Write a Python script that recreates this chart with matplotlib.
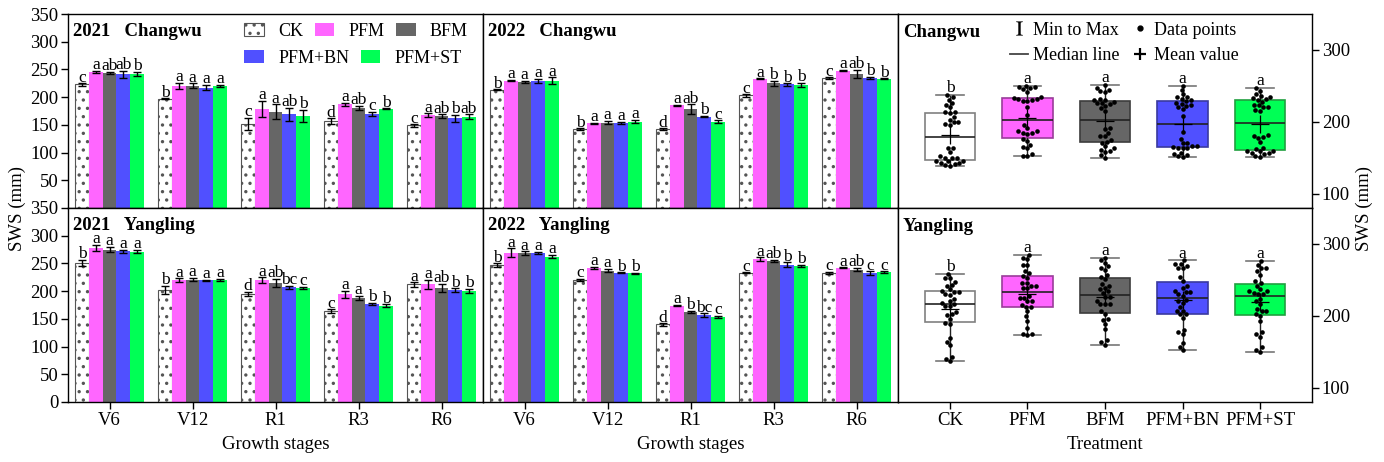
import numpy as np
import pandas as pd
import matplotlib
matplotlib.use('Agg')
import matplotlib.pyplot as plt
from matplotlib.patches import Patch
from matplotlib.lines import Line2D
import seaborn as sns

plt.rcParams['font.family'] = ['Liberation Serif', 'DejaVu Serif']
plt.rcParams['mathtext.fontset'] = 'stix'
plt.rcParams['hatch.linewidth'] = 1.2
plt.rcParams['axes.linewidth'] = 1.0

stages = ['V6', 'V12', 'R1', 'R3', 'R6']
treatments = ['CK', 'PFM', 'BFM', 'PFM+BN', 'PFM+ST']

# bar data: one row per treatment, one column per growth stage
cw21_mean = [[223, 197, 152, 157, 149], [245, 220, 179, 187, 168], [244, 221, 174, 180, 166],
             [241, 217, 169, 170, 162], [242, 220, 166, 179, 165]]
cw21_err = [[2, 1, 11, 5, 2], [2, 6, 14, 3, 3], [2, 4, 13, 4, 3], [7, 5, 12, 4, 6], [4, 2, 11, 1, 4]]
cw21_lab = [['c', 'b', 'c', 'd', 'c'], ['a', 'a', 'a', 'a', 'a'], ['ab', 'a', 'a', 'ab', 'ab'],
            ['ab', 'a', 'ab', 'c', 'b'], ['b', 'a', 'b', 'b', 'ab']]

yl21_mean = [[251, 202, 195, 164, 212], [278, 220, 220, 194, 212], [275, 221, 215, 188, 206],
             [272, 220, 207, 177, 202], [271, 220, 206, 174, 200]]
yl21_err = [[5, 7, 4, 3, 4], [5, 3, 5, 7, 8], [5, 3, 7, 4, 7], [3, 1, 3, 2, 3], [3, 2, 2, 2, 4]]
yl21_lab = [['b', 'b', 'd', 'c', 'a'], ['a', 'a', 'a', 'a', 'a'], ['a', 'a', 'ab', 'a', 'ab'],
            ['a', 'a', 'bc', 'b', 'b'], ['a', 'a', 'c', 'b', 'b']]

cw22_mean = [[213, 142, 142, 203, 234], [230, 153, 185, 233, 248], [228, 154, 178, 225, 242],
             [229, 154, 165, 223, 235], [230, 156, 156, 222, 233]]
cw22_err = [[1, 2, 2, 2, 2], [1, 1, 1, 1, 1], [2, 3, 9, 4, 7], [4, 2, 1, 2, 2], [6, 3, 2, 4, 1]]
cw22_lab = [['b', 'b', 'd', 'c', 'c'], ['a', 'a', 'a', 'a', 'a'], ['a', 'a', 'ab', 'b', 'ab'],
            ['a', 'a', 'b', 'b', 'b'], ['a', 'a', 'c', 'b', 'b']]

yl22_mean = [[247, 220, 140, 233, 233], [269, 242, 174, 258, 242], [269, 237, 163, 254, 239],
             [269, 233, 157, 248, 233], [262, 232, 153, 245, 234]]
yl22_err = [[3, 2, 2, 1, 2], [8, 2, 1, 3, 1], [3, 3, 2, 2, 3], [2, 1, 3, 4, 3], [3, 1, 2, 2, 2]]
yl22_lab = [['b', 'c', 'd', 'c', 'c'], ['a', 'a', 'a', 'a', 'a'], ['a', 'a', 'b', 'ab', 'ab'],
            ['a', 'b', 'bc', 'b', 'c'], ['a', 'b', 'c', 'b', 'c']]

# individual data points (2 years x 5 stages x 3 replicates) per treatment
cw_pts = [
    [220, 223, 226, 195, 197, 199, 141, 150, 164, 149, 158, 164, 146, 149, 152,
     212, 213, 214, 139, 142, 145, 140, 142, 145, 200, 203, 206, 231, 234, 237],
    [242, 245, 248, 210, 221, 229, 165, 176, 196, 183, 187, 191, 163, 168, 173,
     229, 230, 232, 152, 153, 155, 184, 185, 187, 232, 233, 234, 247, 248, 250],
    [241, 244, 247, 215, 222, 226, 160, 172, 190, 175, 180, 185, 161, 166, 171,
     225, 228, 231, 150, 154, 158, 163, 180, 191, 219, 226, 230, 232, 243, 251],
    [229, 244, 250, 208, 218, 225, 155, 166, 186, 164, 170, 176, 152, 163, 171,
     222, 230, 235, 151, 154, 157, 164, 165, 166, 220, 223, 226, 232, 235, 238],
    [236, 243, 247, 217, 220, 223, 155, 162, 181, 178, 179, 180, 159, 164, 172,
     220, 231, 239, 151, 157, 160, 153, 156, 159, 215, 223, 228, 232, 233, 234],
]
yl_pts = [
    [243, 252, 258, 190, 203, 213, 188, 196, 201, 159, 164, 169, 205, 213, 218,
     242, 247, 252, 216, 220, 224, 137, 140, 143, 231, 233, 235, 229, 233, 237],
    [270, 279, 285, 215, 220, 225, 212, 221, 227, 183, 193, 206, 199, 212, 225,
     256, 270, 281, 238, 242, 246, 173, 174, 175, 253, 259, 262, 239, 242, 245],
    [267, 277, 281, 216, 221, 226, 203, 216, 226, 181, 188, 195, 194, 207, 217,
     264, 269, 274, 232, 237, 242, 160, 163, 166, 251, 254, 257, 234, 239, 244],
    [267, 272, 277, 218, 220, 222, 202, 207, 212, 174, 177, 180, 197, 202, 207,
     266, 269, 272, 231, 233, 235, 152, 157, 162, 241, 249, 254, 228, 233, 238],
    [266, 271, 276, 216, 220, 224, 203, 206, 209, 171, 174, 177, 193, 200, 207,
     257, 262, 267, 230, 232, 234, 150, 153, 156, 242, 245, 248, 231, 234, 237],
]
cw_box_lab = ['b', 'a', 'a', 'a', 'a']
yl_box_lab = ['b', 'a', 'a', 'a', 'a']

colors = ['white', '#ff66ff', '#666666', '#5050ff', '#00ff55']
box_edges = ['#808080', '#9a3c9a', '#3c3c3c', '#3a3aa0', '#20a040']

W, H = 1384, 462
fig = plt.figure(figsize=(13.84, 4.62), dpi=100)


def add_ax(x0, y0, x1, y1):
    return fig.add_axes([x0 / W, 1 - y1 / H, (x1 - x0) / W, (y1 - y0) / H])


def bar_panel(ax, means, errs, labs, title):
    x = np.arange(len(stages))
    w = 0.165
    for i, t in enumerate(treatments):
        pos = x + (i - 2) * w
        if i == 0:
            ax.bar(pos, means[i], w, color='white', edgecolor='#555555', lw=0.8, hatch='..', zorder=2)
        else:
            ax.bar(pos, means[i], w, color=colors[i], lw=0, zorder=2)
        ax.errorbar(pos, means[i], yerr=errs[i], fmt='none', ecolor='black', elinewidth=1,
                    capsize=3, capthick=1, zorder=3)
        for p, m, e, l in zip(pos, means[i], errs[i], labs[i]):
            ax.text(p, m + e + 3, l, ha='center', va='baseline', fontsize=12.5)
    ax.set_xlim(-0.5, 4.5)
    ax.set_ylim(0, 350)
    ax.set_xticks(x)
    ax.set_xticklabels(stages)
    ax.tick_params(labelsize=13.5, length=5, width=1, direction='out', pad=2)
    ax.text(0.012, 0.955, title, transform=ax.transAxes, fontweight='bold', fontsize=13.5, va='top')


ax_tl = add_ax(68, 14, 483, 208)
ax_bl = add_ax(68, 208, 483, 402)
ax_tm = add_ax(483, 14, 898, 208)
ax_bm = add_ax(483, 208, 898, 402)

bar_panel(ax_tl, cw21_mean, cw21_err, cw21_lab, '2021   Changwu')
bar_panel(ax_bl, yl21_mean, yl21_err, yl21_lab, '2021   Yangling')
bar_panel(ax_tm, cw22_mean, cw22_err, cw22_lab, '2022   Changwu')
bar_panel(ax_bm, yl22_mean, yl22_err, yl22_lab, '2022   Yangling')

ax_tl.set_yticks(range(50, 351, 50))
ax_bl.set_yticks(range(0, 351, 50))
for ax in (ax_tl, ax_tm):
    ax.tick_params(bottom=False, labelbottom=False)
for ax in (ax_tm, ax_bm):
    ax.tick_params(left=False, labelleft=False)
for ax in (ax_bl, ax_bm):
    ax.set_xlabel('Growth stages', fontsize=13.5, labelpad=5)

# legend of the bar panels
h = [Patch(facecolor='white', edgecolor='#555555', hatch='..', lw=0.8)] + \
    [Patch(facecolor=c, edgecolor='none') for c in colors[1:]]
leg1 = ax_tl.legend(h[:3], treatments[:3], ncol=3, loc='upper left', bbox_to_anchor=(0.425, 0.955),
                    frameon=False, fontsize=13, handlelength=1.1, handleheight=0.75,
                    handletextpad=0.8, columnspacing=0.6, borderpad=0, borderaxespad=0)
ax_tl.add_artist(leg1)
ax_tl.legend(h[3:], treatments[3:], ncol=2, loc='upper left', bbox_to_anchor=(0.425, 0.815),
             frameon=False, fontsize=13, handlelength=1.1, handleheight=0.75,
             handletextpad=0.8, columnspacing=0.6, borderpad=0, borderaxespad=0)

# box plot panels
ax_tr = add_ax(898, 14, 1312, 208)
ax_br = add_ax(898, 208, 1312, 402)


def box_panel(ax, pts, labs, title):
    df = pd.DataFrame({'trt': np.repeat(treatments, [len(p) for p in pts]),
                       'val': np.concatenate(pts)})
    sns.swarmplot(data=df, x='trt', y='val', order=treatments, color='black', size=3.3,
                  ax=ax, zorder=4, warn_thresh=1)
    bp = ax.boxplot(pts, positions=range(len(treatments)), widths=0.65, whis=(0, 100),
                    patch_artist=True, showfliers=False, showmeans=True, capwidths=0.36,
                    meanprops=dict(marker='+', markeredgecolor='black', markersize=13, markeredgewidth=0.9),
                    medianprops=dict(color='#222222', lw=1.2),
                    whiskerprops=dict(color='#222222', lw=1),
                    capprops=dict(color='#777777', lw=1.2), zorder=2)
    for patch, fc, ec in zip(bp['boxes'], colors, box_edges):
        patch.set_facecolor(fc)
        patch.set_edgecolor(ec)
        patch.set_linewidth(1.2)
    for i, (p, l) in enumerate(zip(pts, labs)):
        ax.text(i, max(p) + 4, l, ha='center', va='baseline', fontsize=12.5)
    ax.set_xlim(-0.67, 4.67)
    ax.set_ylim(80, 350)
    ax.set_xticks(range(len(treatments)))
    ax.set_xticklabels(treatments)
    ax.set_yticks([100, 200, 300])
    ax.yaxis.tick_right()
    ax.set_xlabel('')
    ax.set_ylabel('')
    ax.tick_params(labelsize=13.5, length=5, width=1, direction='out', pad=2)
    ax.text(0.012, 0.95, title, transform=ax.transAxes, fontweight='bold', fontsize=13.5, va='top')


box_panel(ax_tr, cw_pts, cw_box_lab, 'Changwu')
box_panel(ax_br, yl_pts, yl_box_lab, 'Yangling')
ax_tr.tick_params(bottom=False, labelbottom=False)
ax_br.set_xlabel('Treatment', fontsize=13.5, labelpad=5)

lh = [Line2D([], [], color='black', marker=r'$\mathrm{I}$', ls='none', markersize=10, markeredgewidth=0.2),
      Line2D([], [], color='#444444', lw=1.3),
      Line2D([], [], color='black', marker='o', ls='none', markersize=3.5),
      Line2D([], [], color='black', marker='+', ls='none', markersize=9, markeredgewidth=1.6)]
ax_tr.legend(lh, ['Min to Max', 'Median line', 'Data points', 'Mean value'], ncol=2,
             loc='upper left', bbox_to_anchor=(0.27, 0.96), frameon=False, fontsize=13,
             handlelength=1.0, handletextpad=0.3, columnspacing=0.6, labelspacing=0.45,
             borderpad=0, borderaxespad=0)

fig.text(17 / W, 1 - 208 / H, 'SWS (mm)', rotation=90, ha='center', va='center', fontsize=13.5)
fig.text(1364 / W, 1 - 208 / H, 'SWS (mm)', rotation=90, ha='center', va='center', fontsize=13.5)

fig.savefig('out.png', dpi=100)
